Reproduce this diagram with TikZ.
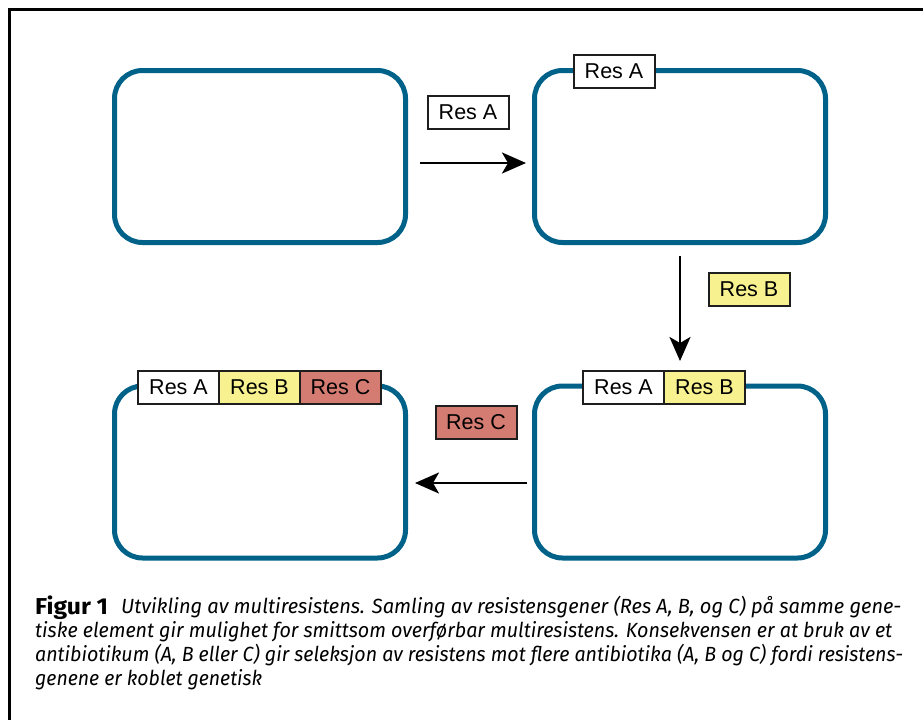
\documentclass[tikz,border=0pt]{standalone}
\usepackage{fontspec}
\usepackage{graphicx}
\setmainfont{Liberation Sans}
\newfontfamily\capfont{Fira Sans}
\usetikzlibrary{arrows.meta}
\definecolor{teal}{RGB}{0,98,136}
\definecolor{resyellow}{RGB}{247,242,143}
\definecolor{resred}{RGB}{212,123,114}
\definecolor{edge}{RGB}{30,30,30}
\tikzset{
  x=1pt, y=-1pt,
  cell/.style={draw=teal, line width=5pt, rounded corners=28pt, minimum width=291pt, minimum height=172pt, inner sep=0pt},
  gene/.style={draw=edge, line width=2pt, fill=white, minimum width=81pt, minimum height=33pt, inner sep=0pt, font=\fontsize{21.5}{23}\selectfont},
  arr/.style={line width=2.7pt, -{Stealth[length=24pt,width=21pt,inset=6pt]}},
  capline/.style={anchor=base west, inner sep=0pt}
}
\begin{document}
\begin{tikzpicture}
\useasboundingbox (0,0) rectangle (923,720);
\fill[white] (0,0) rectangle (923,720);
\draw[line width=3pt] (9,720) -- (9,9.5) -- (923,9.5);
% cells
\node[cell] (b1) at (260,156.5) {};
\node[cell] (b2) at (680,156.5) {};
\node[cell] (b3) at (680,472) {};
\node[cell] (b4) at (260,472) {};
% labels on cells
\node[gene] (b2A) at (614,71) {Res A};
\node[gene] (b3A) at (623.5,387.5) {Res A};
\node[gene, fill=resyellow] (b3B) at (704.5,387.5) {Res B};
\node[gene] (b4A) at (178.5,387.5) {Res A};
\node[gene, fill=resyellow] (b4B) at (259.5,387.5) {Res B};
\node[gene, fill=resred] (b4C) at (340.5,387.5) {Res C};
% floating genes
\node[gene] (gA) at (468,112) {Res A};
\node[gene, fill=resyellow] (gB) at (749,289.5) {Res B};
\node[gene, fill=resred] (gC) at (476,422.5) {Res C};
% arrows
\draw[arr, shorten <=12pt, shorten >=6pt] ([yshift=-6.5pt]b1.east) -- ([yshift=-6.5pt]b2.west);
\draw[arr, shorten <=11pt, shorten >=9pt] (b2.south) -- (b2.south |- b3B.north);
\draw[arr, shorten <=5pt, shorten >=7pt] ([yshift=-11pt]b3.west) -- ([yshift=-11pt]b4.east);
% caption
\node[capline, font=\capfont\bfseries\fontsize{23}{24}\selectfont] (cf) at (35,614) {\resizebox{73pt}{\height}{Figur 1}};
\node[capline, font=\capfont\itshape\fontsize{20.5}{22}\selectfont] (c1) at (121,613) {\resizebox{780pt}{\height}{Utvikling av multiresistens. Samling av resistensgener (Res A, B, og C) på samme gene-}};
\node[capline, font=\capfont\itshape\fontsize{20.5}{22}\selectfont] (c2) at (35,637) {\resizebox{857pt}{\height}{tiske element gir mulighet for smittsom overførbar multiresistens. Konsekvensen er at bruk av et}};
\node[capline, font=\capfont\itshape\fontsize{20.5}{22}\selectfont] (c3) at (35,661) {\resizebox{868pt}{\height}{antibiotikum (A, B eller C) gir seleksjon av resistens mot flere antibiotika (A, B og C) fordi resistens-}};
\node[capline, font=\capfont\itshape\fontsize{20.5}{22}\selectfont] (c4) at (35,685) {\resizebox{227pt}{\height}{genene er koblet genetisk}};
\end{tikzpicture}
\end{document}
